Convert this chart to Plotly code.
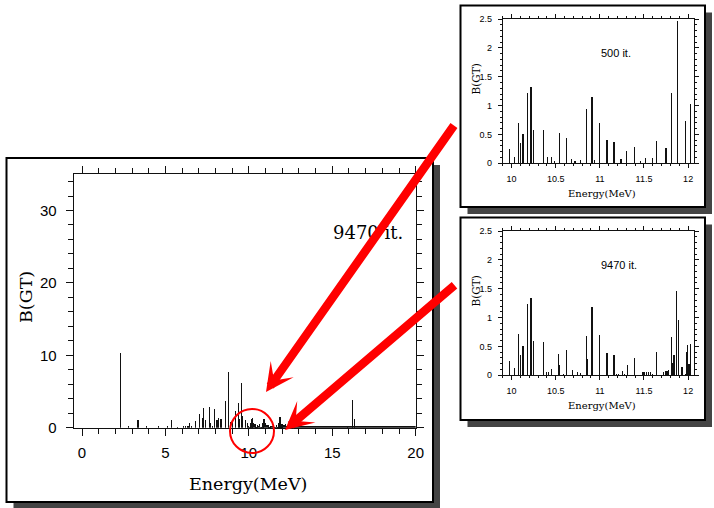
import plotly.graph_objects as go

W, H = 714, 508


def px(x):
    return x / W


def py(y):
    return 1 - y / H


# ---------------- data ----------------
# main panel: strength below 10 MeV
low_e = [2.30, 2.80, 3.36, 3.86, 4.60, 5.10, 5.38, 5.70, 6.10, 6.22, 6.35, 6.46, 6.55,
         6.80, 7.04, 7.24, 7.30, 7.40, 7.62, 7.70, 7.82, 7.94, 8.04, 8.12, 8.20, 8.30,
         8.38, 8.60, 8.76, 8.90, 9.04, 9.18, 9.36, 9.44, 9.54, 9.64, 9.78, 9.90]
low_b = [10.3, 0.30, 1.00, 0.20, 0.20, 0.30, 1.00, 0.15, 0.20, 0.30, 0.25, 0.60, 0.30,
         0.87, 1.95, 1.40, 2.72, 1.05, 2.86, 0.60, 0.30, 2.53, 1.05, 1.05, 1.35, 1.25,
         1.15, 3.70, 7.65, 0.80, 0.80, 2.30, 3.45, 1.15, 6.20, 1.60, 1.05, 0.60]

# main panel: strength above 12 MeV
high_e = [12.10, 12.20, 12.30, 12.40, 15.93, 16.20, 16.35]
high_b = [0.40, 0.50, 0.30, 0.20, 0.18, 3.83, 1.15]

# main panel: dense tiny strength (continuum-like band)
cont_e = [12.375, 12.625, 12.875, 13.125, 13.375, 13.625, 13.875, 14.125, 14.375,
          14.625, 14.875, 15.125, 15.375, 15.625, 15.875, 16.125, 16.375, 16.625,
          16.875, 17.125, 17.375, 17.625, 17.875, 18.125, 18.375, 18.625, 18.875,
          19.125, 19.375, 19.625, 19.875]
cont_b = [0.30, 0.28, 0.30, 0.27, 0.29, 0.28, 0.27, 0.29, 0.28, 0.27, 0.28, 0.29,
          0.27, 0.28, 0.29, 0.27, 0.28, 0.27, 0.28, 0.27, 0.28, 0.27, 0.27, 0.28,
          0.27, 0.27, 0.28, 0.27, 0.27, 0.27, 0.27]

# inset: 500 iterations, 10-12 MeV
it500_e = [9.98, 10.03, 10.08, 10.10, 10.13, 10.18, 10.22, 10.25, 10.36, 10.41, 10.45,
           10.49, 10.54, 10.62, 10.68, 10.72, 10.78, 10.85, 10.91, 10.94, 11.00, 11.08,
           11.16, 11.24, 11.30, 11.39, 11.46, 11.52, 11.60, 11.64, 11.75, 11.81, 11.88,
           11.97, 12.03]
it500_b = [0.24, 0.115, 0.70, 0.35, 0.50, 1.22, 1.33, 0.58, 0.57, 0.115, 0.115,
           0.035, 0.53, 0.445, 0.07, 0.045, 0.065, 0.94, 1.15, 0.05, 0.69, 0.40,
           0.37, 0.08, 0.21, 0.29, 0.035, 0.10, 0.085, 0.38, 0.26, 1.21, 2.46,
           0.74, 1.03]

# inset: 9470 iterations, 10-12 MeV
it9470_e = [9.98, 10.03, 10.08, 10.10, 10.13, 10.18, 10.22, 10.25, 10.36, 10.40, 10.42,
            10.45, 10.53, 10.54, 10.59, 10.62, 10.69, 10.75, 10.78, 10.85, 10.86, 10.91,
            11.00, 11.08, 11.16, 11.19, 11.21, 11.26, 11.28, 11.31, 11.39, 11.48, 11.50,
            11.53, 11.55, 11.57, 11.60, 11.64, 11.72, 11.74, 11.76, 11.78, 11.81, 11.82,
            11.84, 11.85, 11.87, 11.89, 11.93, 11.97, 11.98, 11.99, 12.01, 12.03]
it9470_b = [0.25, 0.12, 0.71, 0.35, 0.51, 1.24, 1.34, 0.59, 0.57, 0.055, 0.055,
            0.115, 0.37, 0.18, 0.02, 0.445, 0.085, 0.05, 0.035, 0.68, 0.29, 1.18,
            0.70, 0.39, 0.35, 0.03, 0.03, 0.08, 0.03, 0.18, 0.30, 0.05, 0.05,
            0.05, 0.05, 0.05, 0.02, 0.40, 0.05, 0.08, 0.08, 0.10, 0.66, 0.22,
            0.36, 0.12, 1.46, 0.95, 0.14, 0.03, 0.41, 0.53, 0.19, 0.54]

main_ticks_x = [0, 5, 10, 15, 20]
main_ticks_y = [0, 10, 20, 30]
inset_ticks_x = [10, 10.5, 11, 11.5, 12]
inset_ticks_y = [0, 0.5, 1, 1.5, 2, 2.5]

# ---------------- figure ----------------
BAR = "#111111"
fig = go.Figure()

main_e = low_e + it9470_e + high_e
main_b = low_b + it9470_b + high_b
fig.add_trace(go.Bar(x=main_e, y=main_b, width=0.075, marker=dict(color=BAR, line=dict(width=0)),
                     xaxis="x", yaxis="y", showlegend=False, hoverinfo="skip"))
fig.add_trace(go.Bar(x=cont_e, y=cont_b, width=0.25, marker=dict(color=BAR, line=dict(width=0)),
                     xaxis="x", yaxis="y", showlegend=False, hoverinfo="skip"))
fig.add_trace(go.Bar(x=it500_e, y=it500_b, width=0.014, marker=dict(color=BAR, line=dict(width=0)),
                     xaxis="x2", yaxis="y2", showlegend=False, hoverinfo="skip"))
fig.add_trace(go.Bar(x=it9470_e, y=it9470_b, width=0.014, marker=dict(color=BAR, line=dict(width=0)),
                     xaxis="x3", yaxis="y3", showlegend=False, hoverinfo="skip"))

AX = "#111111"
sans = "Liberation Sans"
serif = "DejaVu Serif"


def axis_common(ticklen, size, standoff):
    return dict(showline=True, linecolor=AX, linewidth=1, mirror="allticks",
                ticks="outside", ticklen=ticklen, tickcolor=AX, tickwidth=1,
                showgrid=False, zeroline=False, fixedrange=True, automargin=False,
                tickfont=dict(family=sans, size=size, color="#000"),
                ticklabelstandoff=standoff)


main_x = axis_common(7, 15, 4)
main_x.update(domain=[px(73.7), px(415.7)], range=[-0.5, 20], tickvals=main_ticks_x,
              anchor="y", minor=dict(dtick=1, tick0=0, ticklen=5, ticks="outside", tickcolor=AX))
main_y = axis_common(7, 15, 6)
main_y.update(domain=[py(427.7), py(174.3)], range=[0, 35], tickvals=main_ticks_y,
              anchor="x", minor=dict(dtick=2, tick0=0, ticklen=5, ticks="outside", tickcolor=AX))


def inset_x(anchor):
    d = axis_common(4, 9, 3)
    d.update(domain=[px(502.7), px(694.3)], range=[9.9, 12.07], tickvals=inset_ticks_x,
             anchor=anchor, minor=dict(dtick=0.1, tick0=0, ticklen=2, ticks="outside", tickcolor=AX))
    return d


def inset_y(anchor, top, bottom):
    d = axis_common(4, 9, 4)
    d.update(domain=[py(bottom), py(top)], range=[0, 2.5], tickvals=inset_ticks_y,
             anchor=anchor, minor=dict(dtick=0.1, tick0=0, ticklen=2, ticks="outside", tickcolor=AX))
    return d


fig.update_layout(
    width=W, height=H, autosize=False,
    margin=dict(l=0, r=0, t=0, b=0, pad=0),
    paper_bgcolor="white", plot_bgcolor="rgba(0,0,0,0)",
    bargap=0, barmode="overlay", hovermode=False, dragmode=False,
    xaxis=main_x, yaxis=main_y,
    xaxis2=inset_x("y2"), yaxis2=inset_y("x2", 19, 163.3),
    xaxis3=inset_x("y3"), yaxis3=inset_y("x3", 231, 375.3),
)

# ---------------- frames & shadows ----------------
SH = "#444444"
shapes = []


def framed(x0, y0, x1, y1, off=7):
    shapes.append(dict(type="rect", xref="paper", yref="paper", layer="below",
                       x0=px(x1), x1=px(min(x1 + off, W)), y0=py(min(y1 + off, H)), y1=py(y0 + off),
                       fillcolor=SH, line=dict(width=0)))
    shapes.append(dict(type="rect", xref="paper", yref="paper", layer="below",
                       x0=px(x0 + off), x1=px(min(x1 + off, W)), y0=py(min(y1 + off, H)), y1=py(y1),
                       fillcolor=SH, line=dict(width=0)))
    shapes.append(dict(type="rect", xref="paper", yref="paper", layer="above",
                       x0=px(x0), x1=px(x1), y0=py(y1), y1=py(y0),
                       line=dict(color="black", width=2), fillcolor="rgba(0,0,0,0)"))


framed(6.5, 158, 433, 502, off=7)
framed(460.5, 5.5, 705, 207, off=7)
framed(460.5, 217.5, 705, 420, off=7)

shapes.append(dict(type="circle", xref="paper", yref="paper", layer="above",
                   x0=px(230), x1=px(274), y0=py(453), y1=py(409),
                   line=dict(color="#ff0000", width=2)))
fig.update_layout(shapes=shapes)

# ---------------- texts ----------------
ann = []


def text(x, y, s, family, size, angle=0, xanchor="center"):
    ann.append(dict(xref="paper", yref="paper", x=px(x), y=py(y), text=s, showarrow=False,
                    font=dict(family=family, size=size, color="black"), textangle=angle,
                    xanchor=xanchor, yanchor="middle"))


text(248, 484, "Energy(MeV)", serif, 17.5)
text(26, 297, "B(GT)", serif, 17.5, angle=-90)
text(331, 232, "9470 it.", serif, 18, xanchor="left")

text(601.7, 193, "Energy(MeV)", serif, 10)
text(475.5, 79, "B(GT)", serif, 10.5, angle=-90)
text(599, 52.5, "500 it.", sans, 11, xanchor="left")

text(601.7, 405, "Energy(MeV)", serif, 10)
text(475.5, 291, "B(GT)", serif, 10.5, angle=-90)
text(599, 264.5, "9470 it.", sans, 11, xanchor="left")

for (tx, ty, sx, sy) in [(266, 392, 455, 124), (285, 430, 456, 284)]:
    ann.append(dict(xref="paper", yref="paper", x=px(tx), y=py(ty), text="",
                    showarrow=True, ax=sx - tx, ay=sy - ty, axref="pixel", ayref="pixel",
                    arrowhead=3, arrowsize=0.55, arrowwidth=8.5, arrowcolor="#ff0000",
                    standoff=0, startstandoff=0))

fig.update_layout(annotations=ann)

fig.write_html(
    "out.html",
    config={"staticPlot": True, "displayModeBar": False, "responsive": False},
    post_script="document.documentElement.style.cssText='margin:0;padding:0;overflow:hidden;width:714px;height:508px';"
                "document.body.style.cssText='margin:0;padding:0;overflow:hidden;width:714px;height:508px;position:relative';",
)
